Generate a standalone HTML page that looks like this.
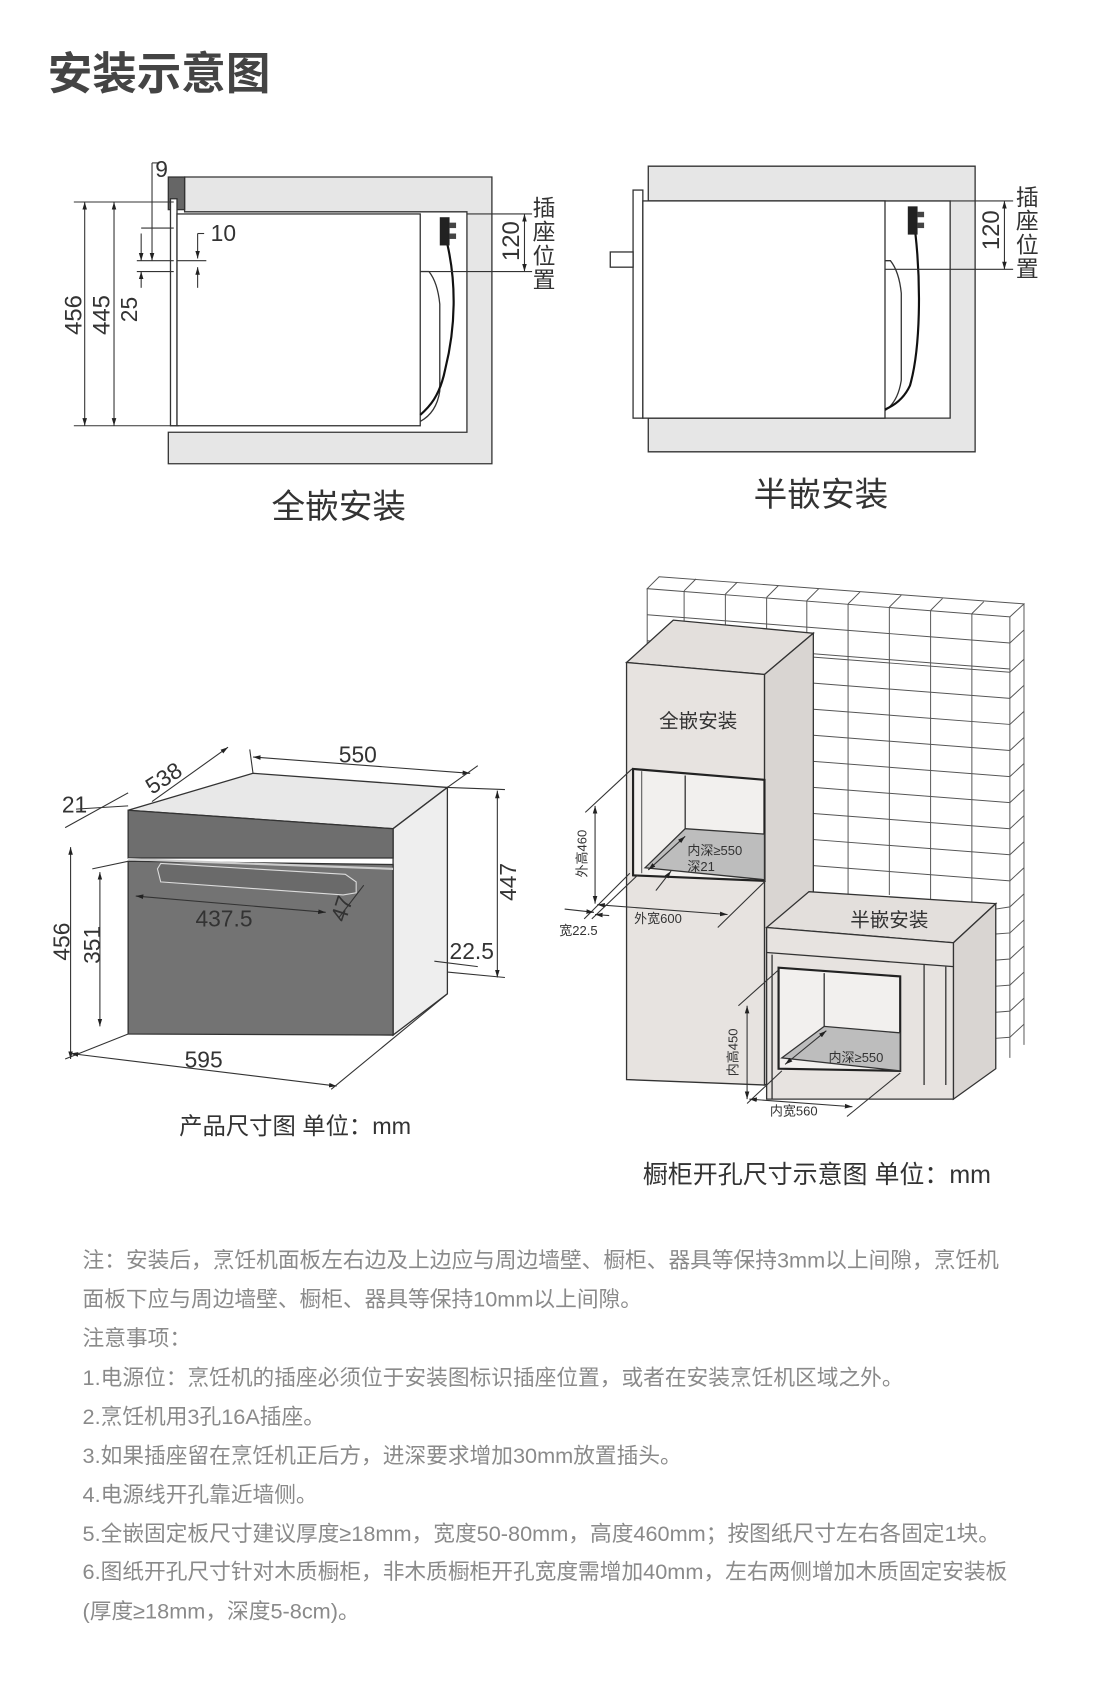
<!DOCTYPE html>
<html><head><meta charset="utf-8"><style>
html,body{margin:0;padding:0;background:#fff;}
svg{display:block;font-family:"Liberation Sans","Noto Sans CJK SC",sans-serif;}
</style></head><body>
<svg width="1100" height="1703" viewBox="0 0 1013 1568" preserveAspectRatio="none" xmlns="http://www.w3.org/2000/svg">
<defs>
<marker id="a" viewBox="0 0 10 10" refX="10" refY="5" markerWidth="7" markerHeight="7" orient="auto-start-reverse"><path d="M0,2 L10,5 L0,8 z" fill="#222"/></marker>
</defs>
<text x="44" y="82" font-size="41" fill="#444" font-weight="bold">安装示意图</text>

<!-- full embed -->
<g stroke="#333" stroke-width="1.2">
<path d="M170,163 H453 V427 H155 V398 H430 V195 H170 Z" fill="#e6e6e6"/>
<rect x="155" y="163" width="15" height="30" fill="#666"/>
<rect x="157" y="183" width="6" height="209" fill="#fff"/>
<rect x="163" y="197" width="224" height="195" fill="#fff"/>
<path d="M387,250 h8 q8,10 10,30 v80 q-3,20 -18,28" fill="none"/>
</g>
<path d="M412,225 C420,260 420,300 410,340 C405,365 395,375 387,382" stroke="#111" stroke-width="2" fill="none"/>
<rect x="405" y="200" width="9" height="26" fill="#222"/><rect x="414" y="205" width="6" height="5" fill="#444"/><rect x="414" y="215" width="6" height="5" fill="#444"/>
<g stroke="#333" stroke-width="1" fill="none">
<line x1="68" y1="186" x2="160" y2="186"/><line x1="68" y1="392" x2="165" y2="392"/>
<line x1="78" y1="186" x2="78" y2="392" marker-start="url(#a)" marker-end="url(#a)"/>
<line x1="105" y1="186" x2="105" y2="392" marker-start="url(#a)" marker-end="url(#a)"/>
<line x1="140" y1="150" x2="140" y2="240" marker-end="url(#a)"/>
<line x1="140" y1="150" x2="146" y2="150"/>
<line x1="130" y1="210" x2="160" y2="210"/>
<line x1="126" y1="240" x2="160" y2="240"/><line x1="126" y1="250" x2="160" y2="250"/>
<line x1="130" y1="215" x2="130" y2="240" marker-end="url(#a)"/>
<line x1="130" y1="265" x2="130" y2="250" marker-end="url(#a)"/>
<line x1="182" y1="215" x2="182" y2="238" marker-end="url(#a)"/>
<line x1="182" y1="265" x2="182" y2="246" marker-end="url(#a)"/>
<line x1="182" y1="215" x2="188" y2="215"/>
<line x1="163" y1="240" x2="190" y2="240"/>
<line x1="430" y1="197" x2="490" y2="197"/><line x1="387" y1="250" x2="490" y2="250"/>
<line x1="483" y1="197" x2="483" y2="250" marker-start="url(#a)" marker-end="url(#a)"/>
</g>
<text x="143" y="163" font-size="21" fill="#333">9</text>
<text x="194" y="222" font-size="21" fill="#333">10</text>
<text transform="translate(75,290) rotate(-90)" font-size="22" fill="#333" text-anchor="middle">456</text>
<text transform="translate(101,290) rotate(-90)" font-size="22" fill="#333" text-anchor="middle">445</text>
<text transform="translate(126,285) rotate(-90)" font-size="21" fill="#333" text-anchor="middle">25</text>
<text transform="translate(478,222) rotate(-90)" font-size="22" fill="#333" text-anchor="middle">120</text>
<g font-size="21" fill="#333" text-anchor="middle"><text x="501" y="199">插</text><text x="501" y="221">座</text><text x="501" y="243">位</text><text x="501" y="265">置</text></g>
<text x="312" y="477" font-size="31" fill="#333" text-anchor="middle">全嵌安装</text>

<!-- half embed -->
<g stroke="#333" stroke-width="1.2">
<path d="M597,153 H898 V416 H597 V385 H875 V185 H597 Z" fill="#e6e6e6"/>
<rect x="583" y="175" width="9" height="210" fill="#fff"/>
<rect x="592" y="185" width="223" height="200" fill="#fff"/>
<rect x="562" y="232" width="21" height="14" fill="#fff"/>
<path d="M815,240 h5 q8,10 10,30 v80 q-3,20 -15,28" fill="none"/>
</g>
<path d="M843,215 C848,260 848,320 838,355 C832,368 822,374 815,377" stroke="#111" stroke-width="2" fill="none"/>
<rect x="836" y="190" width="9" height="26" fill="#222"/><rect x="845" y="195" width="6" height="5" fill="#444"/><rect x="845" y="205" width="6" height="5" fill="#444"/>
<g stroke="#333" stroke-width="1" fill="none">
<line x1="875" y1="185" x2="933" y2="185"/><line x1="815" y1="248" x2="933" y2="248"/>
<line x1="925" y1="185" x2="925" y2="248" marker-start="url(#a)" marker-end="url(#a)"/>
</g>
<text transform="translate(920,212) rotate(-90)" font-size="22" fill="#333" text-anchor="middle">120</text>
<g font-size="21" fill="#333" text-anchor="middle"><text x="946" y="189">插</text><text x="946" y="211">座</text><text x="946" y="233">位</text><text x="946" y="255">置</text></g>
<text x="756" y="466" font-size="31" fill="#333" text-anchor="middle">半嵌安装</text>

<!-- product dims -->
<g stroke="#333" stroke-width="1.2">
<polygon points="118,746 233,712 412,725 362,763" fill="#e8e8e8"/>
<polygon points="362,763 412,725 412,915 362,953" fill="#eeeeee"/>
<polygon points="118,746 362,763 362,790 118,790" fill="#6e6e6e"/>
<polygon points="118,793 362,796 362,953 118,952" fill="#737373"/>
</g>
<path d="M145,800 l3,-5 l170,10 l10,7 v10 l-12,2 l-168,-12 z" fill="#6a6a6a" stroke="#ddd" stroke-width="1"/>
<line x1="118" y1="791" x2="362" y2="800" stroke="#ccc" stroke-width="2"/>
<g stroke="#333" stroke-width="1" fill="none">
<line x1="233" y1="697" x2="433" y2="712" marker-start="url(#a)" marker-end="url(#a)"/>
<line x1="233" y1="712" x2="230" y2="690"/><line x1="412" y1="725" x2="440" y2="705"/>
<line x1="140" y1="738" x2="210" y2="688" marker-end="url(#a)"/>
<line x1="70" y1="745" x2="118" y2="742"/>
<line x1="65" y1="780" x2="65" y2="975" marker-start="url(#a)" marker-end="url(#a)"/>
<line x1="92" y1="803" x2="92" y2="945" marker-start="url(#a)" marker-end="url(#a)"/>
<line x1="60" y1="762" x2="118" y2="730"/>
<line x1="85" y1="800" x2="118" y2="793"/>
<line x1="60" y1="975" x2="118" y2="952"/>
<line x1="65" y1="970" x2="310" y2="1000" marker-start="url(#a)" marker-end="url(#a)"/>
<line x1="305" y1="1003" x2="412" y2="915"/>
<line x1="458" y1="728" x2="458" y2="900" marker-start="url(#a)" marker-end="url(#a)"/>
<line x1="412" y1="725" x2="465" y2="727"/><line x1="412" y1="895" x2="465" y2="900"/>
<line x1="400" y1="885" x2="440" y2="890"/>
<line x1="125" y1="825" x2="300" y2="840" marker-start="url(#a)" marker-end="url(#a)"/>
<line x1="312" y1="845" x2="335" y2="815"/>
</g>
<g font-size="21" fill="#333">
<text x="312" y="702">550</text>
<text transform="translate(140,732) rotate(-33)">538</text>
<text x="57" y="748">21</text>
<text transform="translate(64,867) rotate(-90)" text-anchor="middle">456</text>
<text transform="translate(92,870) rotate(-90)" text-anchor="middle">351</text>
<text x="170" y="983">595</text>
<text transform="translate(475,812) rotate(-90)" text-anchor="middle">447</text>
<text x="414" y="883">22.5</text>
<text x="180" y="853">437.5</text>
<text transform="translate(318,850) rotate(-72)">47</text>
</g>
<text x="165" y="1044" font-size="21.5" fill="#333">产品尺寸图 单位：mm</text>

<g transform="translate(-7,-6)">
<!-- tile wall -->
<polygon points="603,548 614,537 950,562 950,968 937,980 603,980" fill="#fff"/>
<g stroke="#555" stroke-width="0.9" fill="none">
<path d="M603,548 L614,537 L950,562 L937,574 Z"/>
<path d="M937,574 V980 M950,562 V968"/>
<path d="M603,548 V630"/>
<path d="M637,550 L648,539 M675,553 L686,542 M713,556 L724,545 M750,559 L761,548 M788,562 L799,551 M826,565 L837,554 M864,568 L875,557 M902,571 L913,560"/>
<path d="M637,550 V600 M675,553 V600 M713,556 V600 M750,559 V990 M788,562 V830 M826,565 V830 M864,568 V835 M902,571 V860"/>
<path d="M603,572 L937,598 M603,596 L937,622"/>
<path d="M756,659 L937,673 L950,661 M756,683 L937,697 L950,685 M756,707 L937,721 L950,709 M756,731 L937,745 L950,733 M756,755 L937,769 L950,757 M756,779 L937,793 L950,781 M756,803 L937,817 L950,805 M924,843 L937,841 L950,829 M924,866 L937,865 L950,853 M924,890 L937,889 L950,877 M924,914 L937,913 L950,901 M924,938 L937,937 L950,925 M924,962 L937,961 L950,949"/>
<path d="M756,611 L937,625 L950,613 M756,635 L937,649 L950,637 M937,598 L950,586"/>
</g>

<!-- tall cabinet -->
<g stroke="#333" stroke-width="1.2">
<polygon points="584,616 627,577 756,589 711,627" fill="#e3dfdc"/>
<polygon points="711,627 756,589 756,990 711,1005" fill="#d9d5d2"/>
<polygon points="584,616 711,627 711,1005 584,1000" fill="#e7e3e0"/>
<polygon points="590,714 711,724 711,817 590,812" fill="#f2f0ee" stroke="#222" stroke-width="2"/>
<polygon points="601,805 638,769 711,774 711,816" fill="#bdbdbd"/>
<line x1="638" y1="720" x2="638" y2="769"/>
<line x1="598" y1="716" x2="598" y2="810" stroke-width="0.8"/>
</g>
<!-- half cabinet -->
<g stroke="#333" stroke-width="1.2">
<polygon points="713,860 752,827 924,838 885,874" fill="#e3dfdc"/>
<polygon points="885,874 924,838 924,990 885,1018" fill="#d9d5d2"/>
<polygon points="713,860 885,874 885,1018 713,1018" fill="#e7e3e0"/>
<line x1="713" y1="883" x2="885" y2="896"/>
<line x1="858" y1="894" x2="858" y2="1005"/>
<line x1="718" y1="885" x2="718" y2="1018"/>
<line x1="878" y1="896" x2="878" y2="1005"/>
<polygon points="724,897 836,905 836,992 724,990" fill="#f2f0ee" stroke="#222" stroke-width="2"/>
<polygon points="727,980 766,951 836,957 836,992" fill="#bdbdbd"/>
<line x1="766" y1="902" x2="766" y2="951"/>
</g>
<g stroke="#333" stroke-width="1" fill="none">
<line x1="555" y1="748" x2="555" y2="838" marker-start="url(#a)" marker-end="url(#a)"/>
<line x1="546" y1="754" x2="589" y2="714"/>
<line x1="587" y1="810" x2="545" y2="852"/>
<line x1="594" y1="812" x2="552" y2="852"/>
<line x1="557" y1="839" x2="677" y2="848" marker-start="url(#a)" marker-end="url(#a)"/>
<line x1="527" y1="843" x2="554" y2="846" marker-end="url(#a)"/>
<line x1="568" y1="849" x2="555" y2="848" marker-end="url(#a)"/>
<line x1="668" y1="860" x2="712" y2="817"/>
<line x1="695" y1="932" x2="695" y2="1018" marker-start="url(#a)" marker-end="url(#a)"/>
<line x1="687" y1="932" x2="724" y2="899"/>
<line x1="695" y1="1022" x2="727" y2="992"/>
<line x1="697" y1="1018" x2="792" y2="1025" marker-start="url(#a)" marker-end="url(#a)"/>
<line x1="787" y1="1034" x2="836" y2="994"/>
<line x1="604" y1="807" x2="638" y2="776" marker-start="url(#a)" marker-end="url(#a)"/>
<line x1="611" y1="826" x2="625" y2="808" marker-end="url(#a)"/>
<line x1="730" y1="986" x2="768" y2="955" marker-start="url(#a)" marker-end="url(#a)"/>
</g>
<g font-size="12" fill="#333">
<text x="614" y="676" font-size="18">全嵌安装</text>
<text x="790" y="859" font-size="18">半嵌安装</text>
<text transform="translate(547,792) rotate(-90)" text-anchor="middle">外高460</text>
<text x="640" y="793">内深≥550</text>
<text x="640" y="808">深21</text>
<text x="591" y="856">外宽600</text>
<text x="522" y="867">宽22.5</text>
<text transform="translate(686,975) rotate(-90)" text-anchor="middle">内高450</text>
<text x="770" y="984">内深≥550</text>
<text x="716" y="1033">内宽560</text>
</g>
</g>
<text x="592" y="1089" font-size="23" fill="#333">橱柜开孔尺寸示意图 单位：mm</text>

<g font-size="20" fill="#8a8a8a">
<text x="76" y="1167">注：安装后，烹饪机面板左右边及上边应与周边墙壁、橱柜、器具等保持3mm以上间隙，烹饪机</text>
<text x="76" y="1203">面板下应与周边墙壁、橱柜、器具等保持10mm以上间隙。</text>
<text x="76" y="1239">注意事项：</text>
<text x="76" y="1275">1.电源位：烹饪机的插座必须位于安装图标识插座位置，或者在安装烹饪机区域之外。</text>
<text x="76" y="1311">2.烹饪机用3孔16A插座。</text>
<text x="76" y="1347">3.如果插座留在烹饪机正后方，进深要求增加30mm放置插头。</text>
<text x="76" y="1383">4.电源线开孔靠近墙侧。</text>
<text x="76" y="1419">5.全嵌固定板尺寸建议厚度≥18mm，宽度50-80mm，高度460mm；按图纸尺寸左右各固定1块。</text>
<text x="76" y="1454">6.图纸开孔尺寸针对木质橱柜，非木质橱柜开孔宽度需增加40mm，左右两侧增加木质固定安装板</text>
<text x="76" y="1490">(厚度≥18mm，深度5-8cm)。</text>
</g>
</svg>
</body></html>
